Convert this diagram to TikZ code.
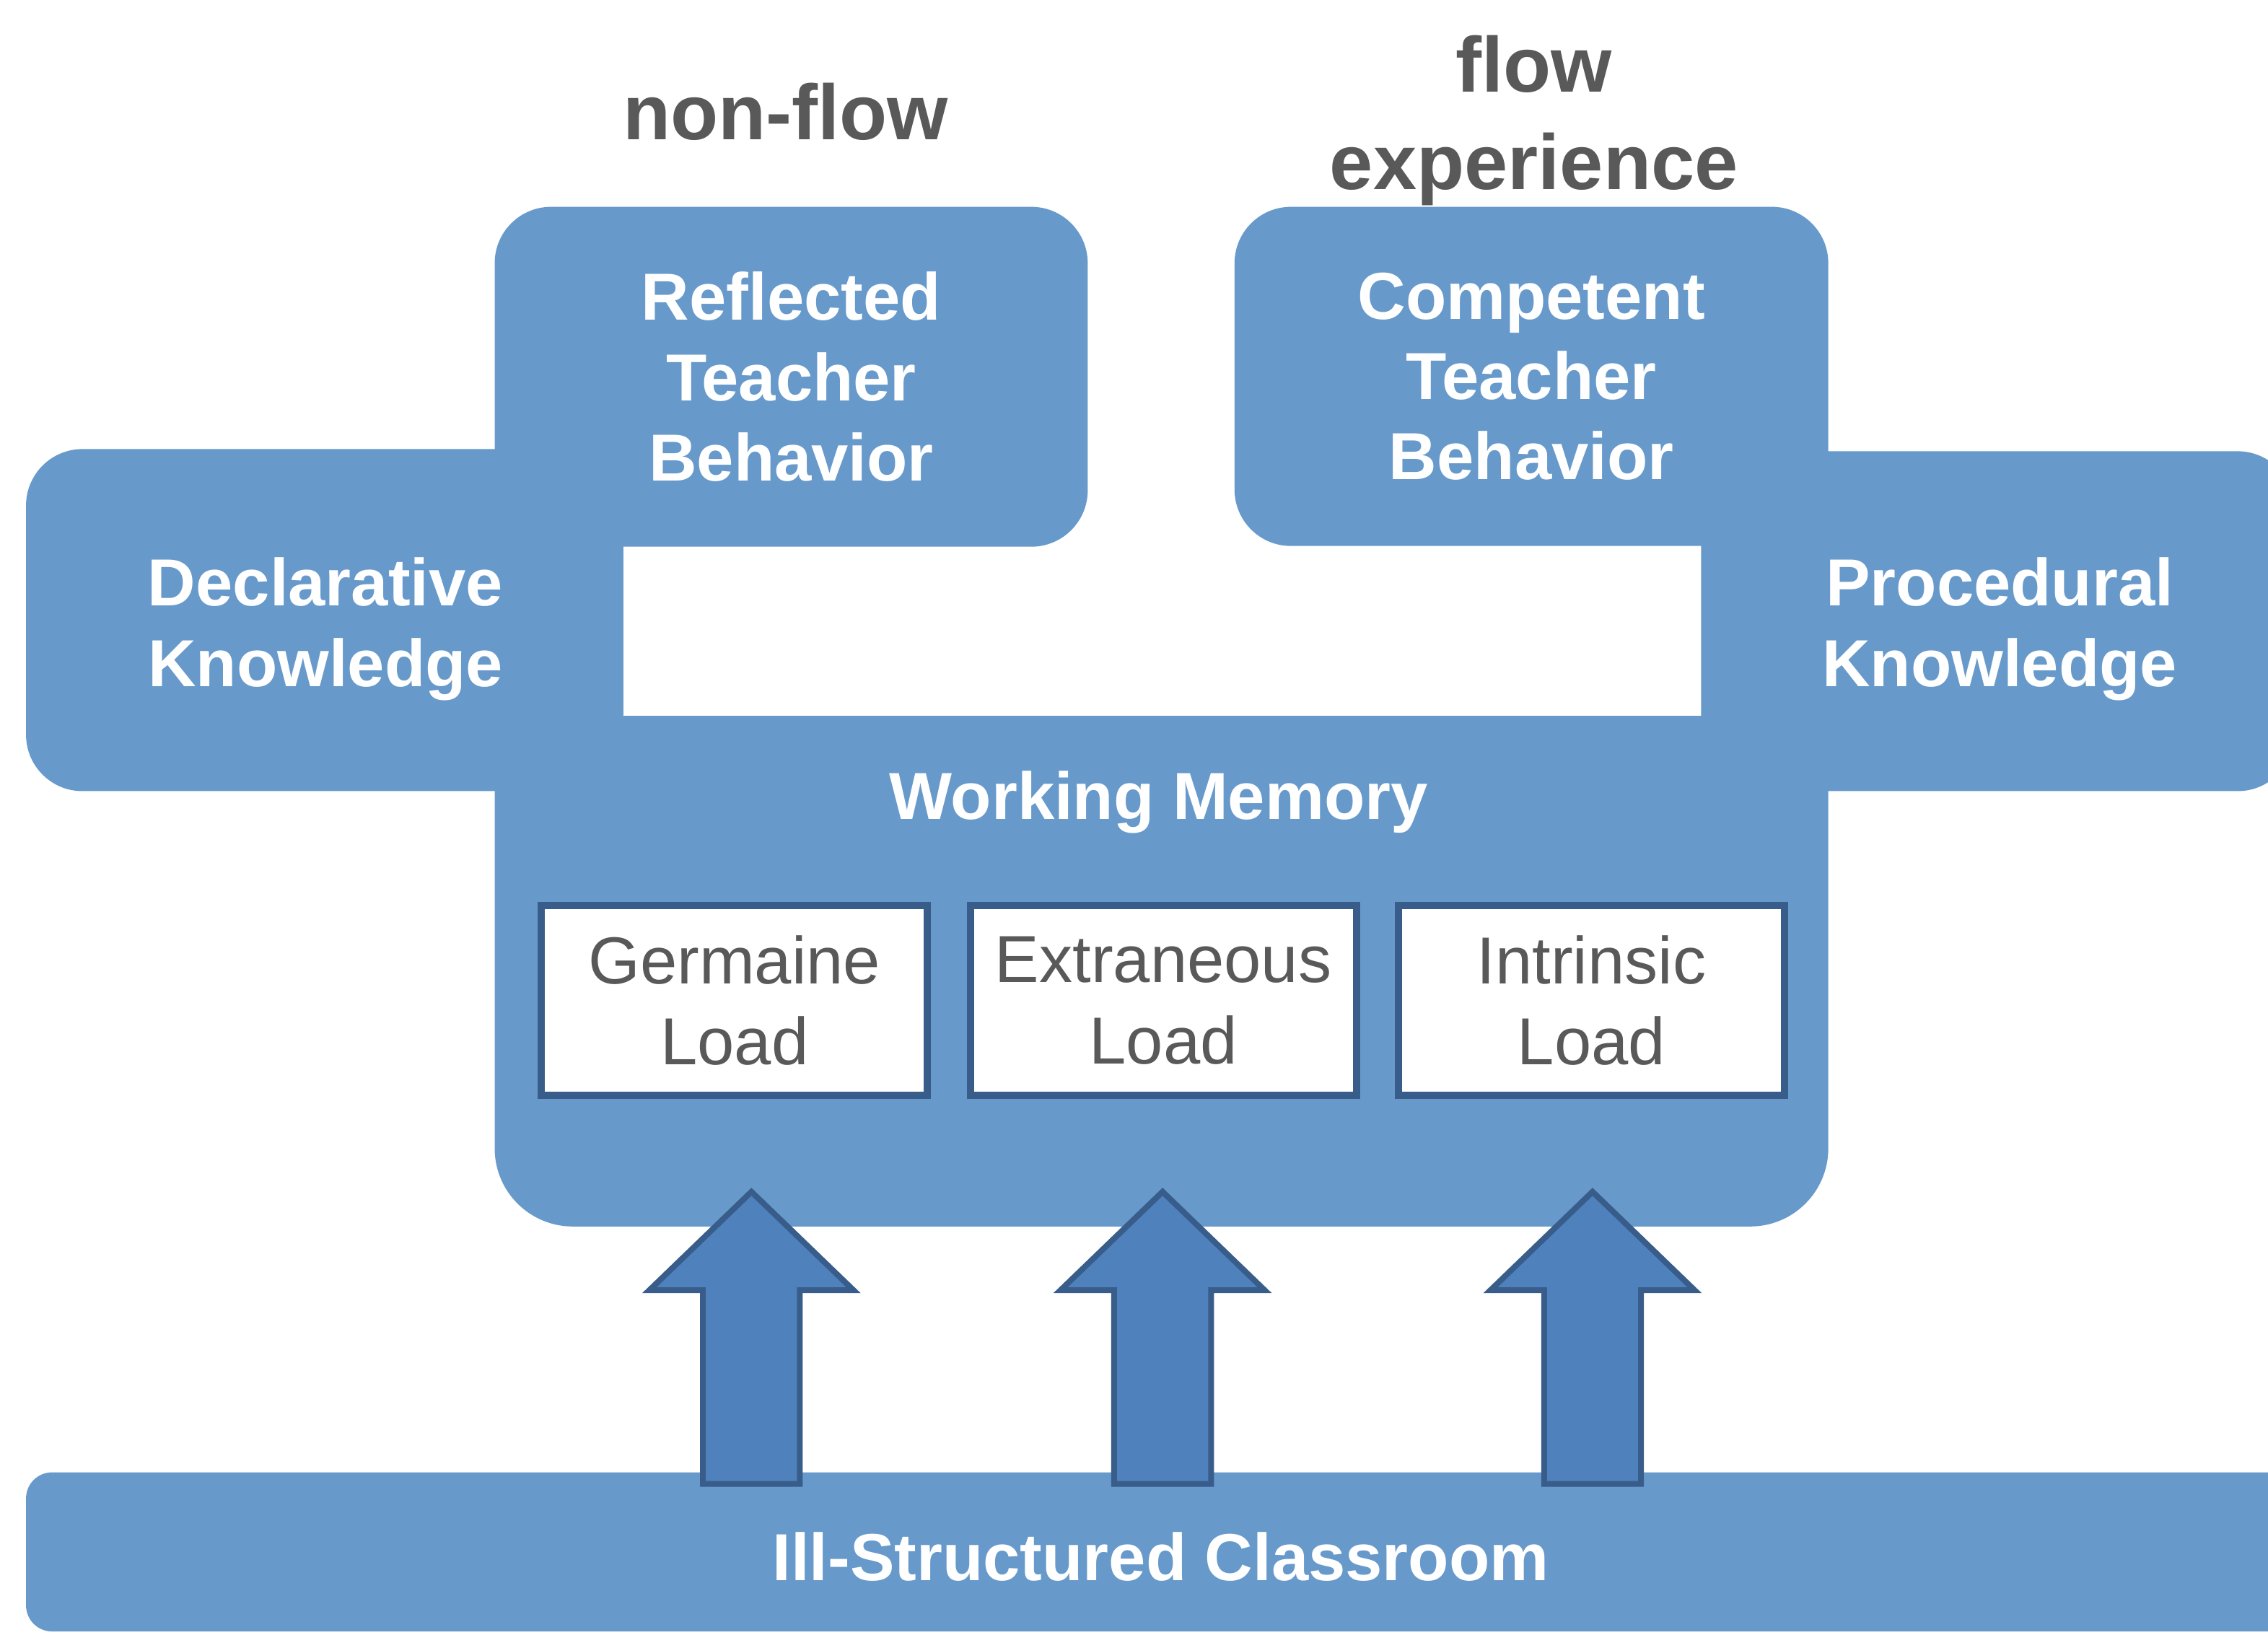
\documentclass[tikz,border=0pt]{standalone}
\usepackage{fontspec}
\setmainfont{Liberation Sans}
\definecolor{panelblue}{RGB}{103,154,203}
\definecolor{arrowblue}{RGB}{79,129,189}
\definecolor{edgeblue}{RGB}{56,93,138}
\definecolor{labelgray}{RGB}{89,89,89}
\begin{document}
\begin{tikzpicture}[x=0.5pt,y=-0.5pt,
  panel/.style={fill=panelblue, draw=none, inner sep=0pt, outer sep=0pt, rounded corners=19.5pt},
  paneltext/.style={text=white, font=\fontsize{23}{27.75}\selectfont\bfseries, align=center, inner sep=0pt},
  loadbox/.style={fill=white, draw=edgeblue, line width=2.5pt, inner sep=0pt,
    minimum width=133.5pt, minimum height=65.7pt, text=labelgray,
    font=\fontsize{23}{28}\selectfont, align=center},
  headline/.style={text=labelgray, font=\fontsize{27}{33.7}\selectfont\bfseries, align=center, inner sep=0pt},
  pics/uparrow/.style={code={
    \draw[fill=arrowblue, draw=edgeblue, line width=2pt, line join=miter]
      (-33.5,0) -- (-33.5,-134) -- (-70.5,-134) -- (0,-202) -- (70.5,-134)
      -- (33.5,-134) -- (33.5,0) -- cycle;}}
]
% canvas
\useasboundingbox (0,0) rectangle (1568,1130);
\clip (0,0) rectangle (1568,1130);
\fill[white] (0,0) rectangle (1568,1130);

% blue panels (they overlap into one outline)
\node[panel, minimum width=206.5pt, minimum height=118.25pt] (decl) at (224.5,428.75) {};
\node[panel, minimum width=205pt, minimum height=117.5pt] (proc) at (1381,429.5) {};
\node[panel, paneltext, minimum width=205pt, minimum height=117.5pt] (refl) at (547,260.5)
  {Reflected\\Teacher\\Behavior};
\node[panel, paneltext, minimum width=205.25pt, minimum height=117.25pt] (comp) at (1058.75,260.25)
  {Competent\\Teacher\\Behavior};
\node[panel, rounded corners=27pt, minimum width=461pt, minimum height=176.5pt] (wm) at (803,671.5) {};
\node[panel, rounded corners=9pt, minimum width=791pt, minimum height=55pt] (room) at (809,1073) {};

% panel captions
\node[paneltext] (declT) at (225,435) {Declarative\\Knowledge};
\node[paneltext] (procT) at (1382.5,435) {Procedural\\Knowledge};
\node[paneltext] (wmT) at (801,554.6) {Working Memory};
\node[paneltext] (roomT) at (802.5,1076.4) {Ill-Structured Classroom};

% headings above the behaviour boxes
\node[headline] (nonflow) at (543,77.4) {non-flow};
\node[headline] (flow) at (1060.5,83.3) {flow\\experience};

% cognitive load boxes
\node[loadbox] (germ) at (507.75,691.8) {Germaine\\Load};
\node[loadbox] (extr) at (804.25,691.8) {Extraneous\\Load};
\node[loadbox] (intr) at (1100.3,691.8) {Intrinsic\\Load};

% block arrows from the classroom up into working memory
\coordinate (src1) at (519.5,1026);
\coordinate (src2) at (803.75,1026);
\coordinate (src3) at (1101,1026);
\pic at (src1) {uparrow};
\pic at (src2) {uparrow};
\pic at (src3) {uparrow};
\end{tikzpicture}
\end{document}
